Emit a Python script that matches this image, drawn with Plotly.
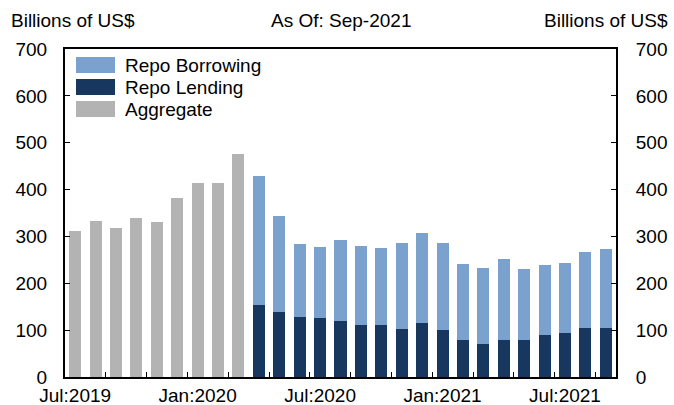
import plotly.graph_objects as go

# months Jul-2019 .. Sep-2021
months = ["Jul:2019", "Aug:2019", "Sep:2019", "Oct:2019", "Nov:2019", "Dec:2019",
          "Jan:2020", "Feb:2020", "Mar:2020", "Apr:2020", "May:2020", "Jun:2020",
          "Jul:2020", "Aug:2020", "Sep:2020", "Oct:2020", "Nov:2020", "Dec:2020",
          "Jan:2021", "Feb:2021", "Mar:2021", "Apr:2021", "May:2021", "Jun:2021",
          "Jul:2021", "Aug:2021", "Sep:2021"]

# aggregate (before the split) Jul-2019 .. Mar-2020
aggregate = [312, 333, 317, 340, 330, 383, 413, 414, 476]

# Apr-2020 .. Sep-2021
repo_total = [430, 344, 284, 277, 292, 280, 276, 285, 308, 285,
              241, 233, 251, 231, 239, 243, 267, 273]
repo_lending = [153, 139, 128, 126, 119, 112, 110, 102, 115, 100,
                79, 71, 78, 80, 90, 93, 105, 105]
repo_borrowing = [t - l for t, l in zip(repo_total, repo_lending)]

label_months = ["Jul:2019", "Jan:2020", "Jul:2020", "Jan:2021", "Jul:2021"]

x_all = list(range(len(months)))
x_agg = x_all[:len(aggregate)]
x_split = x_all[len(aggregate):]

FONT = "Liberation Sans, Arial, sans-serif"
C_AGG = "#b3b3b3"
C_BORROW = "#7ba1cf"
C_LEND = "#17375e"

W, H = 674, 405
L, R, T, B = 65, 58, 49, 28
PW, PH = W - L - R, H - T - B


def px_x(p):
    return (p - L) / PW


def px_y(p):
    return (H - B - p) / PH


fig = go.Figure()
fig.add_trace(go.Bar(x=x_split, y=repo_lending, name="Repo Lending",
                     marker=dict(color=C_LEND, line_width=0)))
fig.add_trace(go.Bar(x=x_split, y=repo_borrowing, name="Repo Borrowing",
                     marker=dict(color=C_BORROW, line_width=0)))
fig.add_trace(go.Bar(x=x_agg, y=aggregate, name="Aggregate",
                     marker=dict(color=C_AGG, line_width=0)))
# invisible trace so the right axis gets drawn
fig.add_trace(go.Scatter(x=[0], y=[0], yaxis="y2", mode="markers",
                         marker=dict(opacity=0), showlegend=False, hoverinfo="skip"))

tick_text = [m if m in label_months else "" for m in months]

# hand-drawn legend (wide swatches like the original)
legend_items = [("Repo Borrowing", C_BORROW), ("Repo Lending", C_LEND), ("Aggregate", C_AGG)]
shapes = []
annotations = []
for i, (name, col) in enumerate(legend_items):
    top = 57 + 22 * i
    shapes.append(dict(type="rect", xref="paper", yref="paper",
                       x0=px_x(76), x1=px_x(115), y0=px_y(top + 16), y1=px_y(top),
                       fillcolor=col, line_width=0))
    annotations.append(dict(text=name, xref="paper", yref="paper",
                            x=px_x(123), y=px_y(top + 8), xanchor="left", yanchor="middle",
                            showarrow=False, font=dict(size=19)))

annotations += [
    dict(text="Billions of US$", x=0, y=1, xref="paper", yref="paper",
         xanchor="left", yanchor="top", xshift=-56, yshift=41, showarrow=False),
    dict(text="As Of: Sep-2021", x=0.5, y=1, xref="paper", yref="paper",
         xanchor="center", yanchor="top", yshift=41, showarrow=False),
    dict(text="Billions of US$", x=1, y=1, xref="paper", yref="paper",
         xanchor="right", yanchor="top", xshift=54, yshift=41, showarrow=False),
]

fig.update_layout(
    width=W, height=H,
    margin=dict(l=L, r=R, t=T, b=B),
    barmode="stack",
    bargap=0.41,
    plot_bgcolor="white",
    paper_bgcolor="white",
    font=dict(family=FONT, size=19, color="black"),
    showlegend=False,
    xaxis=dict(
        range=[-0.5, len(months) - 0.5], automargin=False,
        tickmode="array", tickvals=x_all, ticktext=tick_text,
        ticks="", showgrid=False, zeroline=False,
        showline=True, linecolor="black", linewidth=2, mirror=True,
        minor=dict(tickmode="array", tickvals=[i + 0.5 for i in range(1, len(months) - 1, 2)],
                   ticks="inside", ticklen=5, tickcolor="black", tickwidth=1, showgrid=False),
        tickfont=dict(size=19), ticklabelstandoff=0,
    ),
    yaxis=dict(
        range=[0, 700], dtick=100, ticks="inside", ticklen=5, tickcolor="black",
        showgrid=False, zeroline=False, showline=True, linecolor="black", automargin=False,
        linewidth=2, tickfont=dict(size=19), ticklabelstandoff=12,
    ),
    yaxis2=dict(
        range=[0, 700], dtick=100, overlaying="y", side="right", automargin=False,
        ticks="inside", ticklen=5, tickcolor="black", showgrid=False,
        zeroline=False, showline=True, linecolor="black", linewidth=2,
        tickfont=dict(size=19), ticklabelstandoff=14,
    ),
    shapes=shapes,
    annotations=annotations,
)

fig.write_html("out.html", config={"displayModeBar": False},
               post_script="document.body.style.margin='0';")
